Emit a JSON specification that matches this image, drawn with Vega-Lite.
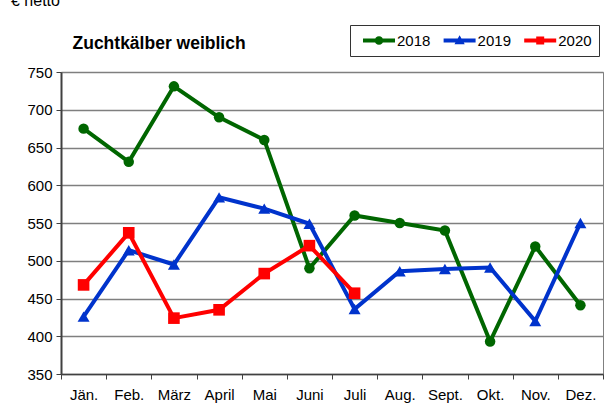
{
  "$schema": "https://vega.github.io/schema/vega-lite/v6.json",
  "width": 542,
  "height": 302,
  "autosize": {"type": "none"},
  "padding": {"left": 61, "top": 72, "right": 10, "bottom": 37},
  "background": "white",
  "title": {
    "text": "€ netto",
    "anchor": "start",
    "frame": "group",
    "orient": "top",
    "baseline": "alphabetic",
    "offset": 0,
    "dx": -50,
    "dy": -3,
    "fontSize": 16,
    "fontWeight": "normal",
    "font": "Liberation Sans",
    "color": "black"
  },
  "config": {
    "view": {"stroke": "#808080", "strokeWidth": 1},
    "font": "Liberation Sans"
  },
  "data": {
    "values": [
      {"m": "Jän.", "year": "2018", "v": 675},
      {"m": "Feb.", "year": "2018", "v": 631},
      {"m": "März", "year": "2018", "v": 731},
      {"m": "April", "year": "2018", "v": 690},
      {"m": "Mai", "year": "2018", "v": 660},
      {"m": "Juni", "year": "2018", "v": 490},
      {"m": "Juli", "year": "2018", "v": 560},
      {"m": "Aug.", "year": "2018", "v": 550},
      {"m": "Sept.", "year": "2018", "v": 540},
      {"m": "Okt.", "year": "2018", "v": 393},
      {"m": "Nov.", "year": "2018", "v": 519},
      {"m": "Dez.", "year": "2018", "v": 441},
      {"m": "Jän.", "year": "2019", "v": 426},
      {"m": "Feb.", "year": "2019", "v": 514},
      {"m": "März", "year": "2019", "v": 495},
      {"m": "April", "year": "2019", "v": 584},
      {"m": "Mai", "year": "2019", "v": 569},
      {"m": "Juni", "year": "2019", "v": 549},
      {"m": "Juli", "year": "2019", "v": 436},
      {"m": "Aug.", "year": "2019", "v": 486},
      {"m": "Sept.", "year": "2019", "v": 489},
      {"m": "Okt.", "year": "2019", "v": 491},
      {"m": "Nov.", "year": "2019", "v": 420},
      {"m": "Dez.", "year": "2019", "v": 550},
      {"m": "Jän.", "year": "2020", "v": 468},
      {"m": "Feb.", "year": "2020", "v": 537},
      {"m": "März", "year": "2020", "v": 424},
      {"m": "April", "year": "2020", "v": 435},
      {"m": "Mai", "year": "2020", "v": 483},
      {"m": "Juni", "year": "2020", "v": 520},
      {"m": "Juli", "year": "2020", "v": 457}
    ]
  },
  "encoding": {
    "x": {
      "field": "m",
      "type": "nominal",
      "sort": ["Jän.", "Feb.", "März", "April", "Mai", "Juni", "Juli", "Aug.", "Sept.", "Okt.", "Nov.", "Dez."],
      "scale": {"type": "band", "paddingInner": 0, "paddingOuter": 0},
      "bandPosition": 0.5,
      "axis": {
        "title": null,
        "tickBand": "extent",
        "labelAngle": 0,
        "tickSize": 5,
        "labelPadding": 8,
        "domainColor": "#404040",
        "domainWidth": 1.5,
        "tickColor": "#404040",
        "labelFontSize": 15,
        "labelFont": "Liberation Sans",
        "labelColor": "black",
        "grid": false
      }
    },
    "y": {
      "field": "v",
      "type": "quantitative",
      "scale": {"domain": [350, 750], "nice": false, "zero": false},
      "axis": {
        "values": [350, 400, 450, 500, 550, 600, 650, 700, 750],
        "grid": true,
        "gridColor": "#7f7f7f",
        "gridWidth": 1.3,
        "tickSize": 5,
        "tickColor": "#404040",
        "labelPadding": 4,
        "labelFontSize": 15,
        "labelFont": "Liberation Sans",
        "labelColor": "black",
        "domainColor": "#404040",
        "domainWidth": 2,
        "title": "Zuchtkälber weiblich",
        "titleAngle": 0,
        "titleAlign": "left",
        "titleBaseline": "alphabetic",
        "titleX": 11,
        "titleY": -24,
        "titleFontSize": 17.5,
        "titleFontWeight": "bold",
        "titleFont": "Liberation Sans",
        "titleColor": "black"
      }
    },
    "color": {
      "field": "year",
      "type": "nominal",
      "scale": {"domain": ["2018", "2019", "2020"], "range": ["#006600", "#0033cc", "#ff0000"]},
      "legend": {
        "orient": "none",
        "legendX": 289,
        "legendY": -47,
        "direction": "horizontal",
        "columns": 3,
        "title": null,
        "padding": 7,
        "strokeColor": "#333333",
        "fillColor": "white",
        "symbolSize": 1444,
        "clipHeight": 17,
        "labelOffset": 2,
        "columnPadding": 6.6,
        "labelFontSize": 15,
        "labelFont": "Liberation Sans",
        "labelColor": "black",
        "labelExpr": "datum.label == '2020' ? '2020  ' : datum.label",
        "symbolStrokeWidth": 0,
        "encode": {
          "symbols": {
            "update": {
              "shape": {"signal": "datum.value === '2018' ? 'M-0.684,-0.1H1V0.1H-0.684Z M-0.072,0A0.23,0.23 0 1,1 0.388,0A0.23,0.23 0 1,1 -0.072,0Z' : datum.value === '2019' ? 'M-0.684,-0.1H1V0.1H-0.684Z M0.158,-0.28L0.428,0.2L-0.112,0.2Z' : 'M-0.684,-0.1H1V0.1H-0.684Z M-0.052,-0.21H0.368V0.21H-0.052Z'"},
              "size": {"value": 1444},
              "fill": {"signal": "datum.value === '2018' ? '#006600' : datum.value === '2019' ? '#0033cc' : '#ff0000'"},
              "stroke": {"value": "transparent"},
              "strokeWidth": {"value": 0},
              "opacity": {"value": 1}
            }
          }
        }
      }
    }
  },
  "layer": [
    {"mark": {"type": "line", "strokeWidth": 4}},
    {
      "transform": [{"filter": "datum.year == '2018'"}],
      "mark": {"type": "point", "filled": true, "opacity": 1, "shape": "circle", "size": 110}
    },
    {
      "transform": [{"filter": "datum.year == '2019'"}],
      "mark": {"type": "point", "filled": true, "opacity": 1, "shape": "triangle-up", "size": 144}
    },
    {
      "transform": [{"filter": "datum.year == '2020'"}],
      "mark": {"type": "point", "filled": true, "opacity": 1, "shape": "square", "size": 135}
    }
  ]
}
